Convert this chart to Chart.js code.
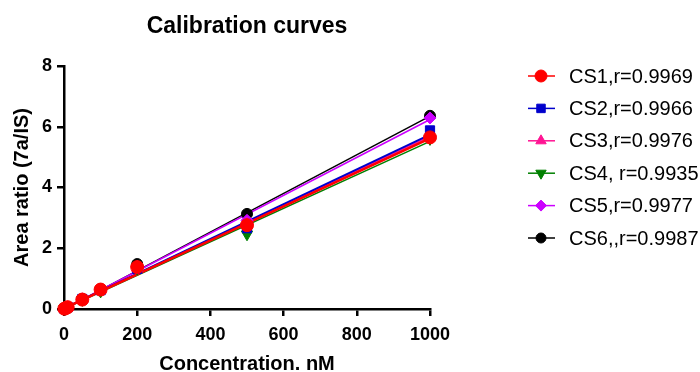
<!DOCTYPE html>
<html>
<head>
<meta charset="utf-8">
<script src="https://cdn.jsdelivr.net/npm/chart.js@4.4.1/dist/chart.umd.min.js"></script>
<style>
html,body{margin:0;padding:0;background:#fff;}
#wrap{width:700px;height:372px;position:relative;}
</style>
</head>
<body>
<div id="wrap"><canvas id="c" width="700" height="372"></canvas></div>
<script>
// ---- data ----
const chartTitle = "Calibration curves";
const xAxisTitle = "Concentration. nM";
const yAxisTitle = "Area ratio (7a/IS)";
const concentrations = [1, 5, 10, 50, 100, 200, 500, 1000];
const seriesLabels = ["CS1,r=0.9969", "CS2,r=0.9966", "CS3,r=0.9976", "CS4, r=0.9935", "CS5,r=0.9977", "CS6,,r=0.9987"];
const cs1 = [0.01, 0.03, 0.06, 0.31, 0.64, 1.38, 2.76, 5.65];
const cs2 = [0.01, 0.03, 0.06, 0.33, 0.62, 1.32, 2.66, 5.88];
const cs3 = [0.01, 0.03, 0.06, 0.32, 0.63, 1.35, 2.80, 5.72];
const cs4 = [0.01, 0.03, 0.05, 0.30, 0.58, 1.33, 2.46, 5.60];
const cs5 = [0.01, 0.03, 0.06, 0.32, 0.64, 1.40, 2.92, 6.29];
const cs6 = [0.01, 0.03, 0.06, 0.33, 0.65, 1.48, 3.13, 6.36];
// fitted regression lines (values at the two ends of the x range)
const fitX = [0, 1000];
const cs1Fit = [0.02, 5.62];
const cs2Fit = [0.02, 5.74];
const cs3Fit = [0.02, 5.68];
const cs4Fit = [0.01, 5.52];
const cs5Fit = [0.00, 6.24];
const cs6Fit = [-0.01, 6.35];
const xTickValues = [0, 200, 400, 600, 800, 1000];
const xTickLabels = ["0", "200", "400", "600", "800", "1000"];
const yTickValues = [0, 2, 4, 6, 8];
const yTickLabels = ["0", "2", "4", "6", "8"];

// ---- styles ----
const FONT = "'Liberation Sans', Arial, Helvetica, sans-serif";
const styles = [
  {color:'#FF0000', point:'circle', radius:6.5, rot:0, lw:2.5},
  {color:'#0000CC', point:'rect', radius:6.5, rot:0, lw:2},
  {color:'#FF1493', point:'triangle', radius:6.5, rot:0, lw:2},
  {color:'#008000', point:'triangle', radius:6.5, rot:180, lw:1.5},
  {color:'#CC00FF', point:'rectRot', radius:6, rot:0, lw:1.5},
  {color:'#000000', point:'circle', radius:5.5, rot:0, lw:1.5}
];
const values = [cs1, cs2, cs3, cs4, cs5, cs6];
const fits = [cs1Fit, cs2Fit, cs3Fit, cs4Fit, cs5Fit, cs6Fit];

const datasets = [];
values.forEach((vals, i) => {
  const s = styles[i];
  datasets.push({
    type: 'scatter',
    label: seriesLabels[i],
    data: concentrations.map((x, j) => ({x: x, y: vals[j]})),
    showLine: false,
    pointStyle: s.point,
    pointRotation: s.rot,
    pointRadius: s.radius,
    pointBackgroundColor: s.color,
    pointBorderColor: s.color,
    pointBorderWidth: 1,
    clip: false
  });
});
fits.forEach((f, i) => {
  const s = styles[i];
  datasets.push({
    type: 'line',
    label: seriesLabels[i] + ' fit',
    data: fitX.map((x, j) => ({x: x, y: f[j]})),
    borderColor: s.color,
    borderWidth: s.lw,
    pointRadius: 0,
    fill: false,
    tension: 0,
    clip: false
  });
});

const customDecor = {
  id: 'customDecor',
  afterDraw(chart) {
    const ctx = chart.ctx;
    const ca = chart.chartArea;
    ctx.save();
    // title
    ctx.fillStyle = '#000';
    ctx.font = 'bold 23px ' + FONT;
    ctx.textAlign = 'center';
    ctx.textBaseline = 'alphabetic';
    ctx.fillText(chartTitle, (ca.left + ca.right) / 2, 33);
    // legend
    const x0 = 528, x1 = 555, mx = 541, tx = 569, y0 = 76, dy = 32.4;
    ctx.font = '20px ' + FONT;
    ctx.textAlign = 'left';
    ctx.textBaseline = 'middle';
    seriesLabels.forEach((lab, i) => {
      const s = styles[i];
      const y = y0 + i * dy;
      ctx.strokeStyle = s.color;
      ctx.lineWidth = 1.5;
      ctx.beginPath();
      ctx.moveTo(x0, y);
      ctx.lineTo(x1, y);
      ctx.stroke();
      ctx.fillStyle = s.color;
      ctx.lineWidth = 1;
      Chart.helpers.drawPoint(ctx, {pointStyle: s.point, rotation: s.rot, radius: s.radius - 0.5, borderWidth: 1}, mx, y);
      ctx.fillStyle = '#000';
      ctx.fillText(lab, tx, y + 1);
    });
    ctx.restore();
  }
};

new Chart(document.getElementById('c'), {
  data: {datasets: datasets},
  options: {
    responsive: false,
    animation: false,
    devicePixelRatio: 1,
    layout: {padding: {top: 66, right: 270, left: 0, bottom: 0}},
    plugins: {legend: {display: false}, title: {display: false}, tooltip: {enabled: false}},
    scales: {
      x: {
        type: 'linear',
        min: 0, max: 1000,
        afterBuildTicks(scale) { scale.ticks = xTickValues.map(v => ({value: v})); },
        afterFit(scale) { scale.height = 63; },
        ticks: {color: '#000', font: {family: FONT, size: 18, weight: 'bold'}, padding: 8, maxRotation: 0,
          callback: (v) => xTickLabels[xTickValues.indexOf(v)]},
        grid: {drawOnChartArea: false, drawTicks: true, tickLength: 7, color: '#000', lineWidth: 2.5},
        border: {color: '#000', width: 2.5},
        title: {display: true, text: xAxisTitle, color: '#000', font: {family: FONT, size: 20, weight: 'bold'}, padding: {top: 0, bottom: -4}}
      },
      y: {
        type: 'linear',
        min: 0, max: 8,
        afterBuildTicks(scale) { scale.ticks = yTickValues.map(v => ({value: v})); },
        afterFit(scale) { scale.width = 64; },
        ticks: {color: '#000', font: {family: FONT, size: 18, weight: 'bold'}, padding: 5,
          callback: (v) => yTickLabels[yTickValues.indexOf(v)]},
        grid: {drawOnChartArea: false, drawTicks: true, tickLength: 7, color: '#000', lineWidth: 2.5},
        border: {color: '#000', width: 2.5},
        title: {display: true, text: yAxisTitle, color: '#000', font: {family: FONT, size: 20, weight: 'bold'}, padding: {top: 10, bottom: 0}}
      }
    }
  },
  plugins: [customDecor]
});
</script>
</body>
</html>
